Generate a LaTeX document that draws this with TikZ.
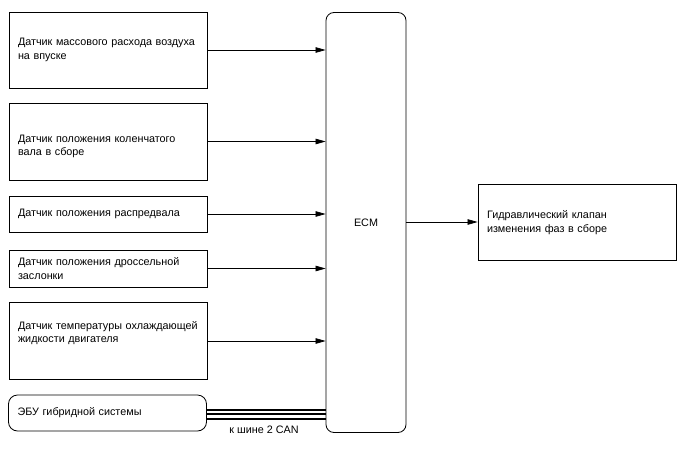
\documentclass[tikz,border=0pt]{standalone}
\usepackage{fontspec}
\setmainfont{Liberation Sans}
\usepackage{tikz}
\usetikzlibrary{positioning,calc,arrows.meta}

\begin{document}
\begin{tikzpicture}[x=1pt,y=-1pt]
            \tikzset{
                sensor/.style={
                    draw,
                    line width=0.8pt,
                    text width=180pt,
                    inner xsep=9pt,
                    minimum width=198pt,
                    align=left,
                    font=\fontsize{10.8}{13.5}\selectfont
                }
            }
            \tikzset{
                unit/.style={
                    draw,
                    line width=0.8pt,
                    rounded corners=8pt,
                    align=center,
                    font=\fontsize{10.8}{13.5}\selectfont
                }
            }
            \tikzset{
                sig/.style={
                    line width=0.7pt,
                    -{Triangle[length=10pt,width=5.5pt]}
                }
            }
            \tikzset{
                bus/.style={
                    line width=1.8pt
                }
            }

            \useasboundingbox (0,0) rectangle (688,463);

            \node[unit, minimum width=80pt, minimum height=420pt] (ecm) at (366,222.5) {ECM};

            \node[sensor, minimum height=76pt] (maf) at (108,50) {Датчик массового расхода воздуха\\на впуске};
            \node[sensor, minimum height=77pt, text depth=6pt] (ckp) at (108,141.5) {Датчик положения коленчатого\\вала в сборе};
            \node[sensor, minimum height=36pt] (cmp) at (108,214) {Датчик положения распредвала};
            \node[sensor, minimum height=37pt] (tps) at (108,268.5) {Датчик положения дроссельной\\заслонки};
            \node[sensor, minimum height=77pt, text depth=32pt] (ect) at (108,341) {Датчик температуры охлаждающей\\жидкости двигателя};

            \node[unit, text width=180pt, inner xsep=9pt, align=left, minimum width=197pt, minimum height=36pt, rounded corners=9pt] (hvecu) at (107.5,413) {ЭБУ гибридной системы};

            \node[sensor, minimum height=76pt, text depth=15pt] (ocv) at (577,222) {Гидравлический клапан\\изменения фаз в сборе};

            \node[font=\fontsize{10.8}{13}\selectfont] (can) at (264,430) {к шине 2 CAN};

            \draw[sig] (maf.east) -- (maf.east -| ecm.west);
            \draw[sig] (ckp.east) -- (ckp.east -| ecm.west);
            \draw[sig] (cmp.east) -- (cmp.east -| ecm.west);
            \draw[sig] (tps.east) -- (tps.east -| ecm.west);
            \draw[sig] (ect.east) -- (ect.east -| ecm.west);
            \draw[sig] (ecm.east |- ocv.west) -- (ocv.west);

            \draw[bus] ([yshift=3.3pt]hvecu.east) -- ([yshift=3.3pt]hvecu.east -| ecm.west);
            \draw[bus] ([yshift=-1.3pt]hvecu.east) -- ([yshift=-1.3pt]hvecu.east -| ecm.west);
            \draw[bus] ([yshift=-6pt]hvecu.east) -- ([yshift=-6pt]hvecu.east -| ecm.west);
        \end{tikzpicture}
\end{document}
